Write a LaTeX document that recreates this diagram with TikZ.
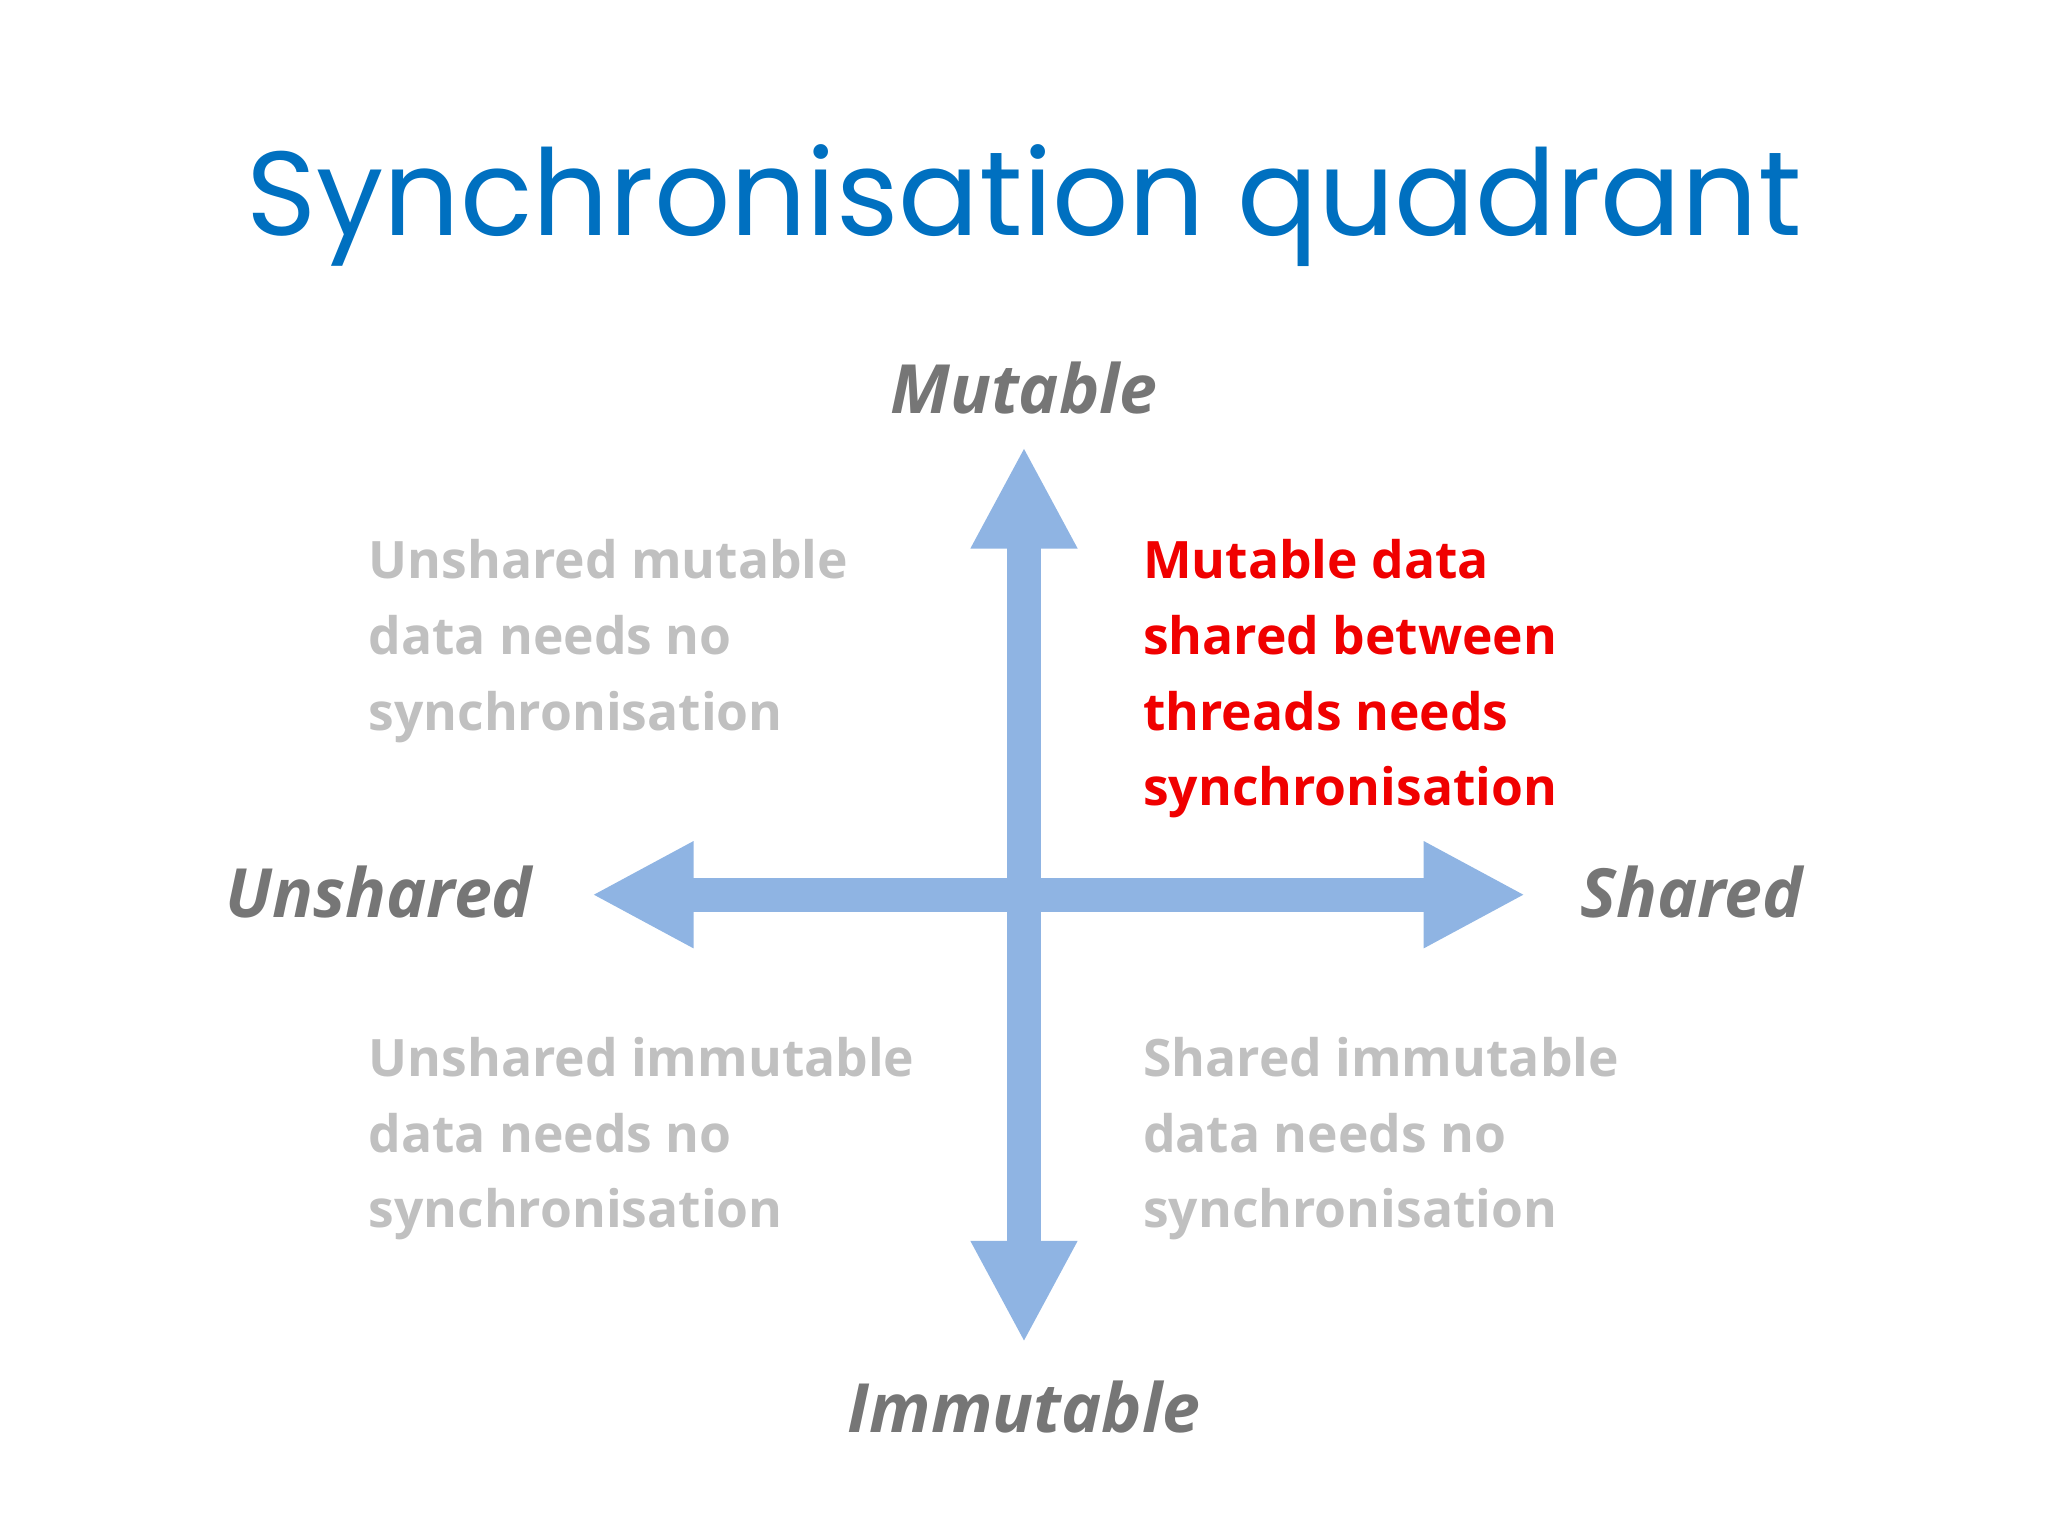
\documentclass[tikz,border=0pt]{standalone}
\usepackage{fontspec}
\setmainfont{Open Sans}
\newfontfamily\titlefont{Poppins}
\usetikzlibrary{arrows.meta}
\definecolor{titleblue}{RGB}{0,112,192}
\definecolor{arrowblue}{RGB}{143,180,227}
\definecolor{axisgray}{RGB}{118,118,118}
\definecolor{lightgray}{RGB}{192,192,192}
\definecolor{hotred}{RGB}{240,0,0}
\tikzset{
  axis/.style={draw=arrowblue,line width=26pt,-{Triangle[length=78pt,width=76pt]}},
  axislabel/.style={text=axisgray,font=\fontsize{52}{60}\selectfont\bfseries\itshape,inner sep=0pt},
  quad/.style={font=\fontsize{39.5}{58}\selectfont\bfseries,align=left,anchor=base west,inner sep=0pt},
}
\begin{document}
\begin{tikzpicture}[x=1pt,y=-1pt]
\useasboundingbox (0,0) rectangle (1568,1176);
\node[text=titleblue,font=\fontsize{91.5}{110}\selectfont\titlefont,anchor=base,inner sep=0pt] (title) at (784,180) {Synchronisation quadrant};
\coordinate (c) at (784,685);
\coordinate (top) at (784,342);
\coordinate (bot) at (784,1028);
\coordinate (lft) at (453,685);
\coordinate (rgt) at (1168,685);
\draw[axis] (c) -- (top);
\draw[axis] (c) -- (bot);
\draw[axis] (c) -- (lft);
\draw[axis] (c) -- (rgt);
\node[axislabel] (mut) at (784,297) {Mutable};
\node[axislabel] (imm) at (784,1077) {Immutable};
\node[axislabel] (uns) at (290,683) {Unshared};
\node[axislabel] (sha) at (1295,683) {Shared};
\node[quad,text=lightgray] (q1) at (282,559) {Unshared mutable\\data needs no\\synchronisation};
\node[quad,text=hotred] (q2) at (875,617) {Mutable data\\shared between\\threads needs\\synchronisation};
\node[quad,text=lightgray] (q3) at (282,940) {Unshared immutable\\data needs no\\synchronisation};
\node[quad,text=lightgray] (q4) at (875,940) {Shared immutable\\data needs no\\synchronisation};
\end{tikzpicture}
\end{document}
